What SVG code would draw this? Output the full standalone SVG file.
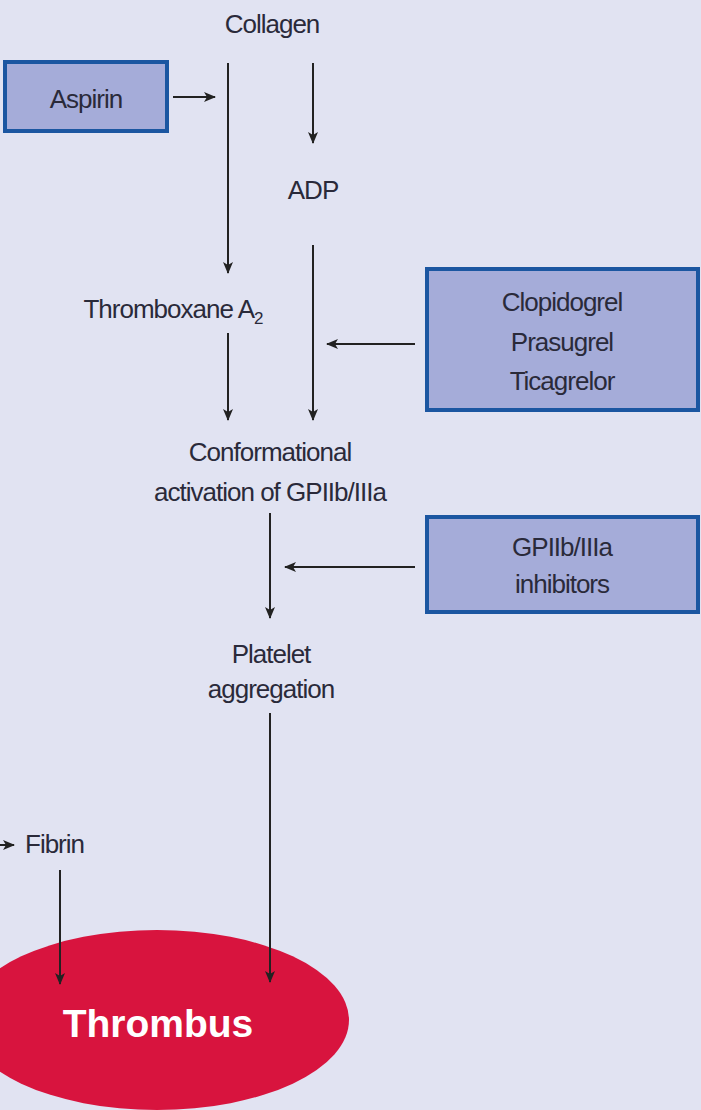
<svg xmlns="http://www.w3.org/2000/svg" width="701" height="1110" viewBox="0 0 701 1110">
<style>
.t{font-family:"Liberation Sans",Arial,sans-serif;font-size:26px;fill:#2a2a3a;text-anchor:middle;letter-spacing:-1px}
.box{fill:#a5acd9;stroke:#1b56a1;stroke-width:4}
.c{stroke:#222;stroke-width:2;fill:none;marker-end:url(#ah)}
</style>
<defs>
<marker id="ah" viewBox="0 0 12 10" refX="11" refY="5" markerWidth="12" markerHeight="10" markerUnits="userSpaceOnUse" orient="auto">
<path d="M0,0 L12,5 L0,10 L3,5 Z" fill="#222"/>
</marker>
</defs>
<rect x="0" y="0" width="701" height="1110" fill="#e1e3f2"/>
<g id="collagen"><text class="t" x="272" y="33">Collagen</text></g>
<g id="aspirin"><rect class="box" x="5" y="62" width="162" height="69"/><text class="t" x="86" y="108">Aspirin</text></g>
<g id="adp"><text class="t" x="313" y="199">ADP</text></g>
<g id="thromboxane"><text class="t" x="173" y="318">Thromboxane A<tspan font-size="17" dy="6">2</tspan></text></g>
<g id="clopidogrel"><rect class="box" x="427" y="269" width="271" height="141"/><text class="t" x="562" y="311">Clopidogrel</text><text class="t" x="562" y="351">Prasugrel</text><text class="t" x="562" y="390">Ticagrelor</text></g>
<g id="conformational"><text class="t" x="270" y="461">Conformational</text><text class="t" x="270" y="501">activation of GPIIb/IIIa</text></g>
<g id="gp"><rect class="box" x="427" y="517" width="271" height="95"/><text class="t" x="562" y="556">GPIIb/IIIa</text><text class="t" x="562" y="593">inhibitors</text></g>
<g id="platelet"><text class="t" x="271" y="663">Platelet</text><text class="t" x="271" y="698">aggregation</text></g>
<g id="fibrin"><text class="t" x="25" y="853" style="text-anchor:start">Fibrin</text></g>
<g id="thrombus"><ellipse cx="157" cy="1020" rx="192" ry="90" fill="#d8143e"/><text x="158" y="1037" style="font-family:'Liberation Sans',Arial,sans-serif;font-size:39px;font-weight:bold;fill:#fff;text-anchor:middle">Thrombus</text></g>
<g id="connectors">
<path class="c" d="M173,97 H215"/>
<path class="c" d="M228,63 V273"/>
<path class="c" d="M313,63 V143"/>
<path class="c" d="M313,245 V420"/>
<path class="c" d="M228,333 V420"/>
<path class="c" d="M415,344 H327"/>
<path class="c" d="M270,513 V618"/>
<path class="c" d="M415,567 H285"/>
<path class="c" d="M270,713 V982"/>
<path class="c" d="M0,845 H14"/>
<path class="c" d="M60,870 V984"/>
</g>
</svg>
